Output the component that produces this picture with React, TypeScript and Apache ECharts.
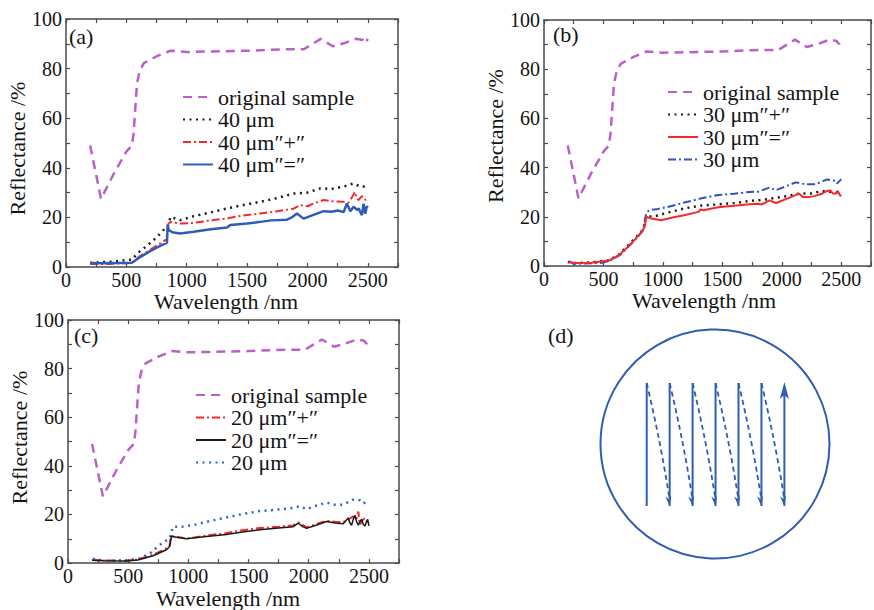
import React, { useEffect, useRef } from "react";
import * as echarts from "echarts";

const FONT = "Liberation Serif";

const xTicks = [0, 500, 1000, 1500, 2000, 2500];
const yTicks = [0, 20, 40, 60, 80, 100];

const origSample = [[200,49],[290,27.5],[400,38],[500,46.5],[546,49],[560,54],[588,74],[610,79],[645,82.2],[753,85],[864,87.2],[1000,86.7],[1500,87.2],[1800,87.8],[1970,87.8],[2110,92],[2210,89],[2300,90.2],[2400,92],[2460,91.5],[2480,90.2],[2500,92]];

const a40 = [[200,1.6],[300,2],[400,2.2],[505,2.8],[550,3],[588,5.4],[670,8.5],[754,12.1],[851,17.2],[865,20.2],[946,18.9],[1057,20.5],[1200,22],[1333,23.6],[1470,25],[1609,26.3],[1750,27.8],[1885,29.6],[2000,30],[2106,31.7],[2200,31.5],[2300,32.4],[2382,33.7],[2437,32.4],[2470,32.5],[2500,33.7]];
const a40plus = [[200,1.2],[300,1.2],[450,1.4],[546,1.7],[615,4.5],[700,7],[780,9.5],[836,11.3],[845,17.2],[865,18.2],[946,17.5],[1057,17.8],[1200,18.8],[1333,19.6],[1470,20.8],[1609,21.6],[1750,22.5],[1885,23.5],[1940,25],[2000,24.5],[2051,25.6],[2134,27],[2200,26.5],[2300,26.3],[2340,26],[2380,29],[2394,30.3],[2410,27.5],[2422,27],[2450,28.5],[2463,28.3],[2480,27],[2500,28]];
const a40eq = [[200,1.6],[300,1.5],[400,1.6],[546,1.7],[615,4],[700,6.5],[780,8.5],[836,9.7],[842,16.9],[850,15],[880,14],[946,13.5],[1057,14.2],[1200,15.2],[1333,15.9],[1361,16.9],[1500,17.5],[1609,18.2],[1700,18.8],[1830,19.1],[1870,20],[1913,21.6],[1968,19.5],[2050,21],[2134,22.5],[2200,22.3],[2250,22.8],[2300,22.2],[2327,25.6],[2355,22.5],[2382,24.3],[2410,23],[2424,23.6],[2451,20.9],[2465,25.5],[2479,21.5],[2492,24.5],[2500,24]];

const b30plus = [[200,1.6],[250,1.2],[400,1.5],[543,2.2],[626,4.5],[700,8],[760,11],[819,14],[847,17],[860,20],[930,20.2],[1050,21.8],[1178,23.4],[1316,24.5],[1454,25],[1600,25.6],[1730,26.4],[1850,27],[1951,27.7],[2050,28.5],[2145,29.4],[2250,29.5],[2338,30.5],[2420,30],[2500,29.4]];
const b30eq = [[207,1.6],[253,1.2],[400,1.3],[543,2.2],[626,4.3],[700,7.5],[760,10.5],[819,13.8],[847,15.9],[860,20],[902,19.3],[985,18.6],[1080,19.7],[1178,20.6],[1300,22],[1316,23],[1344,22.7],[1420,23.5],[1482,24],[1600,24.5],[1730,25.1],[1800,25.3],[1830,25],[1896,26.7],[1951,25.6],[2050,27.5],[2145,29.4],[2180,28],[2228,28],[2280,28.5],[2338,29.4],[2380,30.5],[2407,30.7],[2430,29.5],[2449,29.4],[2470,30.5],[2477,30],[2490,28.5],[2500,28.9]];
const b30 = [[207,2],[253,0.9],[400,1.1],[488,1.3],[557,2.2],[640,4.5],[736,9.1],[800,12.5],[833,14.5],[860,21.6],[888,22.7],[960,23.2],[1040,24],[1180,25.8],[1316,27.4],[1454,28.8],[1600,29.4],[1730,30.1],[1800,30.2],[1896,31.9],[1951,30.8],[2040,32.5],[2117,34],[2200,33.2],[2283,33.2],[2380,35.2],[2449,34.6],[2463,33.5],[2500,35.3]];

const c20plus = [[200,1.3],[300,1.1],[485,1],[580,1.5],[707,3.4],[818,6.1],[845,7.5],[854,11],[887,11],[984,10.1],[1150,11.3],[1317,12.4],[1450,13.5],[1594,14.4],[1750,15],[1871,15.5],[1913,16.8],[1982,14.7],[2060,16],[2148,17.4],[2220,17],[2287,16.9],[2330,18],[2370,19.2],[2395,18],[2412,21.2],[2425,15.8],[2445,17.5],[2467,18.5],[2485,17],[2500,17.2]];
const c20eq = [[200,1.2],[300,1],[485,0.9],[580,1.3],[707,3],[818,5.5],[845,6.8],[859,11],[900,10.6],[984,10],[1150,10.9],[1317,11.8],[1450,12.8],[1594,13.7],[1750,14.4],[1871,15],[1913,16.4],[1950,15],[1982,14.3],[2060,15.6],[2148,17.1],[2220,16.5],[2287,16.2],[2310,17.5],[2328,18.6],[2342,16.5],[2356,15.6],[2370,18],[2384,19.7],[2398,17],[2412,15.6],[2425,17],[2439,18],[2453,16],[2467,15.3],[2481,17.2],[2490,18],[2500,15.3]];
const c20 = [[208,1.8],[280,1.2],[346,0.9],[485,1.2],[596,1.9],[680,4],[762,7.5],[845,10.2],[873,15],[950,15],[1040,15.6],[1180,17.3],[1317,18.8],[1450,20.2],[1594,21.4],[1740,22],[1871,22.7],[1927,23.4],[1982,22.2],[2060,23.6],[2148,24.9],[2231,23.8],[2287,24.1],[2370,26.1],[2425,25.9],[2453,24.5],[2500,25.9]];

const legendA = ["original sample", "40 μm", "40 μm″+″", "40 μm″=″"];
const legendB = ["original sample", "30 μm″+″", "30 μm″=″", "30 μm"];
const legendC = ["original sample", "20 μm″+″", "20 μm″=″", "20 μm"];

const PURPLE = "#b862c6";
const RED = "#f42a2a";
const BLUE = "#2e5cb8";
const BLACK = "#1a1a1a";
const FRAME = "#4a4a4a";
const TEXT = "#141414";

const DASH = [9, 6];
const DOT = [2, 4.5];
const DASHDOT = [8, 3, 2, 3];

const grids = [
  { left: 66, top: 19, width: 332, height: 248 },
  { left: 544, top: 20, width: 332, height: 246 },
  { left: 68, top: 320, width: 331, height: 245 },
];

const xNamePad = [12, 7, 11];
const yNameGap = [36, 33, 32];
const yNamePad = [[0, 11, 0, 0], [0, 0, 0, 14], [0, 0, 0, 8]];

function buildAxes() {
  const xAxis: any[] = [];
  const yAxis: any[] = [];
  grids.forEach((_, g) => {
    const line = { show: true, onZero: false, lineStyle: { color: FRAME, width: 1.5 } };
    const tick = { show: true, inside: true, length: 4, lineStyle: { color: FRAME, width: 1.2 } };
    xAxis.push({
      type: "value", gridIndex: g, position: "bottom", min: 0, max: 2750, interval: 250,
      axisLine: line, axisTick: tick, splitLine: { show: false },
      axisLabel: {
        show: true, margin: 3, fontFamily: FONT, fontSize: 20, color: TEXT,
        formatter: (v: number) => (xTicks.includes(v) ? String(v) : ""),
      },
      name: "Wavelength /nm", nameLocation: "middle", nameGap: 22,
      nameTextStyle: { fontFamily: FONT, fontSize: 22, color: TEXT, padding: [0, xNamePad[g], 0, 0] },
    });
    xAxis.push({
      type: "value", gridIndex: g, position: "top", min: 0, max: 2750, interval: 250,
      axisLine: line, axisTick: tick, splitLine: { show: false }, axisLabel: { show: false },
    });
    yAxis.push({
      type: "value", gridIndex: g, position: "left", min: 0, max: 100, interval: 10,
      axisLine: line, axisTick: tick, splitLine: { show: false },
      axisLabel: {
        show: true, margin: 4, fontFamily: FONT, fontSize: 20, color: TEXT,
        formatter: (v: number) => (yTicks.includes(v) ? String(v) : ""),
      },
      name: "Reflectance /%", nameLocation: "middle", nameGap: yNameGap[g],
      nameTextStyle: { fontFamily: FONT, fontSize: 22, color: TEXT, padding: yNamePad[g] },
    });
    yAxis.push({
      type: "value", gridIndex: g, position: "right", min: 0, max: 100, interval: 10,
      axisLine: line, axisTick: tick, splitLine: { show: false }, axisLabel: { show: false },
    });
  });
  return { xAxis, yAxis };
}

function ser(name: string, g: number, data: number[][], color: string, width: number, type: any, z = 2) {
  return {
    type: "line", name, xAxisIndex: 2 * g, yAxisIndex: 2 * g, data,
    showSymbol: false, symbol: "none", z,
    lineStyle: { color, width, type },
    itemStyle: { color },
  };
}

function legend(names: string[], left: number, top: number) {
  return {
    data: names, orient: "vertical", left, top, padding: 0, itemGap: 0.5,
    itemWidth: 30, itemHeight: 14, selectedMode: false,
    itemStyle: { opacity: 0 },
    textStyle: { fontFamily: FONT, fontSize: 22, color: TEXT, lineHeight: 20 },
  };
}

// panel (d) geometry
const dCx = 715, dCy = 444, dR = 114.5;
const dX0 = 646.7, dDx = 22.95, dTop = 383, dBot = 506;

function panelD() {
  const els: any[] = [];
  const stroke = "#2f5cb4";
  els.push({ type: "circle", shape: { cx: dCx, cy: dCy, r: dR }, style: { fill: "none", stroke, lineWidth: 2 } });
  for (let i = 0; i < 7; i++) {
    const x = dX0 + i * dDx;
    els.push({ type: "line", shape: { x1: x, y1: dBot, x2: x, y2: i === 6 ? dTop + 10 : dTop }, style: { stroke, lineWidth: 2 } });
  }
  const xl = dX0 + 6 * dDx;
  els.push({ type: "polygon", shape: { points: [[xl, dTop - 1], [xl - 4.5, dTop + 16], [xl, dTop + 12], [xl + 4.5, dTop + 16]] }, style: { fill: stroke } });
  for (let i = 0; i < 6; i++) {
    const x1 = dX0 + i * dDx, x2 = dX0 + (i + 1) * dDx;
    const cpx = (x1 + x2) / 2 + 3, cpy = (dTop + dBot) / 2;
    els.push({
      type: "bezierCurve",
      shape: { x1, y1: dTop, x2, y2: dBot - 6, cpx1: cpx, cpy1: cpy },
      style: { stroke, lineWidth: 1.8, lineDash: [5, 3.5], fill: "none" },
    });
    let dx = x2 - cpx, dy = dBot - cpy;
    const len = Math.sqrt(dx * dx + dy * dy);
    dx /= len; dy /= len;
    const bx = x2 - dx * 10, by = dBot - dy * 10;
    const px = -dy, py = dx;
    els.push({ type: "polygon", shape: { points: [[x2, dBot], [bx + px * 3, by + py * 3], [x2 - dx * 7, dBot - dy * 7], [bx - px * 3, by - py * 3]] }, style: { fill: stroke } });
  }
  return els;
}

export default function App() {
  const ref = useRef<HTMLDivElement>(null);
  useEffect(() => {
    if (!ref.current) return;
    const chart = echarts.init(ref.current, null, { renderer: "svg" });
    const { xAxis, yAxis } = buildAxes();
    const labelStyle = (t: string, x: number, y: number) => ({
      type: "text", x, y,
      style: { text: t, fontFamily: FONT, fontSize: 22, fill: TEXT, verticalAlign: "middle", align: "left" },
    });
    chart.setOption({
      animation: false,
      backgroundColor: "#ffffff",
      textStyle: { fontFamily: FONT },
      grid: grids.map((g) => ({ ...g, containLabel: false })),
      xAxis, yAxis,
      legend: [legend(legendA, 182, 86), legend(legendB, 667, 81), legend(legendC, 195, 384)],
      series: [
        ser("original sample", 0, origSample, PURPLE, 2.5, DASH),
        ser("40 μm", 0, a40, BLACK, 2.5, DOT),
        ser("40 μm″+″", 0, a40plus, RED, 2, DASHDOT),
        ser("40 μm″=″", 0, a40eq, BLUE, 2.5, "solid", 3),
        ser("original sample", 1, origSample, PURPLE, 2.5, DASH),
        ser("30 μm″+″", 1, b30plus, BLACK, 2.5, DOT),
        ser("30 μm″=″", 1, b30eq, RED, 2, "solid", 3),
        ser("30 μm", 1, b30, "#3252c2", 2, DASHDOT),
        ser("original sample", 2, origSample, PURPLE, 2.5, DASH),
        ser("20 μm″+″", 2, c20plus, RED, 2, DASHDOT),
        ser("20 μm″=″", 2, c20eq, BLACK, 1.5, "solid", 3),
        ser("20 μm", 2, c20, "#3a5ed6", 2.5, DOT),
      ],
      graphic: [
        labelStyle("(a)", 69, 36),
        labelStyle("(b)", 553, 34),
        labelStyle("(c)", 74, 335),
        labelStyle("(d)", 548, 335),
        ...panelD(),
      ],
    });
    return () => chart.dispose();
  }, []);
  return <div ref={ref} style={{ position: "fixed", left: 0, top: 0, width: 874, height: 610 }} />;
}
